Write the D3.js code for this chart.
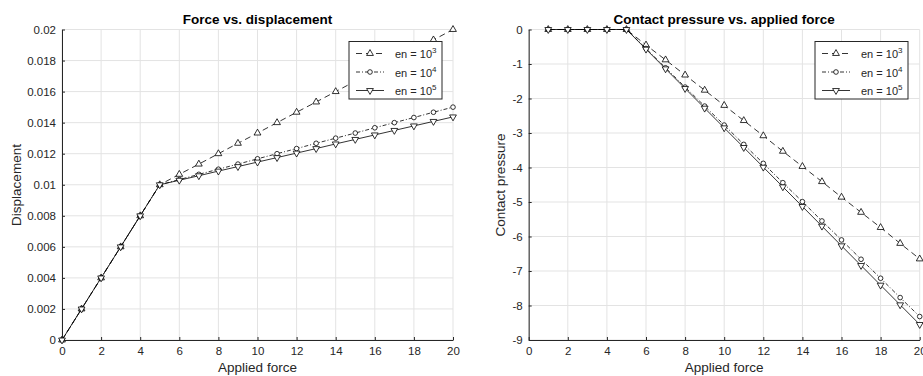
<!DOCTYPE html>
<html>
<head>
<meta charset="utf-8">
<script src="https://cdn.jsdelivr.net/npm/d3@7"></script>
<style>
  body { margin: 0; background: #fff; }
  svg { display: block; font-family: "Liberation Sans", Arial, sans-serif; }
</style>
</head>
<body>
<div id="chart"></div>
<script>
'use strict';

// data
var forceLeft = [0, 1, 2, 3, 4, 5, 6, 7, 8, 9, 10, 11, 12, 13, 14, 15, 16, 17, 18, 19, 20];
var dispEn3 = [0, 0.002, 0.004, 0.006, 0.008, 0.01, 0.01067, 0.01133, 0.012, 0.01267, 0.01333, 0.014, 0.01467, 0.01533, 0.016, 0.01667, 0.01733, 0.018, 0.01867, 0.01933, 0.02];
var dispEn4 = [0, 0.002, 0.004, 0.006, 0.008, 0.01, 0.01033, 0.01067, 0.011, 0.01133, 0.01167, 0.012, 0.01233, 0.01267, 0.013, 0.01333, 0.01367, 0.014, 0.01433, 0.01467, 0.015];
var dispEn5 = [0, 0.002, 0.004, 0.006, 0.008, 0.01, 0.01029, 0.01058, 0.01088, 0.01117, 0.01146, 0.01175, 0.01204, 0.01233, 0.01263, 0.01292, 0.01321, 0.0135, 0.01379, 0.01408, 0.01437];

var forceRight = [1, 2, 3, 4, 5, 6, 7, 8, 9, 10, 11, 12, 13, 14, 15, 16, 17, 18, 19, 20];
var presEn3 = [0, 0, 0, 0, 0, -0.45, -0.88, -1.32, -1.76, -2.2, -2.64, -3.08, -3.53, -3.97, -4.41, -4.86, -5.3, -5.74, -6.2, -6.65];
var presEn4 = [0, 0, 0, 0, 0, -0.55, -1.11, -1.67, -2.22, -2.77, -3.33, -3.88, -4.44, -4.99, -5.55, -6.1, -6.66, -7.21, -7.77, -8.32];
var presEn5 = [0, 0, 0, 0, 0, -0.57, -1.14, -1.71, -2.28, -2.85, -3.42, -3.99, -4.56, -5.13, -5.7, -6.27, -6.84, -7.41, -7.98, -8.55];

var legendExps = ['3', '4', '5'];
var xTicks = [0, 2, 4, 6, 8, 10, 12, 14, 16, 18, 20];
var yTicksLeft = [0, 0.002, 0.004, 0.006, 0.008, 0.01, 0.012, 0.014, 0.016, 0.018, 0.02];
var yTicksRight = [0, -1, -2, -3, -4, -5, -6, -7, -8, -9];

var myApp = {};
myApp.W = 923;
myApp.H = 376;
myApp.lineStyles = ['6,4', '4,2,1,2', null];
myApp.markers = [d3.symbolTriangle, d3.symbolCircle, 'down'];

myApp.svg = d3.select('#chart').append('svg')
    .attr('width', myApp.W)
    .attr('height', myApp.H);

myApp.markerPath = function(kind) {
    if (kind === 'down') {
        return d3.symbol().type(d3.symbolTriangle).size(20)();
    }
    return d3.symbol().type(kind).size(kind === d3.symbolCircle ? 17 : 20)();
};

myApp.drawPanel = function(opt) {
    var svg = myApp.svg;
    var x = d3.scaleLinear().domain([0, 20]).range([opt.left, opt.right]);
    var y = d3.scaleLinear().domain(opt.yDomain).range([340, 29.5]);

    var g = svg.append('g');

    // grid
    g.selectAll('.gx').data(xTicks).enter().append('line')
        .attr('x1', function(d) { return x(d); })
        .attr('x2', function(d) { return x(d); })
        .attr('y1', y.range()[0]).attr('y2', y.range()[1])
        .style('stroke', '#e3e3e3').style('stroke-width', 1);
    g.selectAll('.gy').data(opt.yTicks).enter().append('line')
        .attr('x1', opt.left).attr('x2', opt.right)
        .attr('y1', function(d) { return y(d); })
        .attr('y2', function(d) { return y(d); })
        .style('stroke', '#e3e3e3').style('stroke-width', 1);

    // axes
    var xAxis = d3.axisBottom(x).tickValues(xTicks).tickSizeInner(-3).tickSizeOuter(0).tickPadding(7);
    var yAxis = d3.axisLeft(y).tickValues(opt.yTicks).tickSizeInner(-3).tickSizeOuter(0).tickPadding(6)
        .tickFormat(opt.yFormat);

    var ax = g.append('g').attr('transform', 'translate(0,340)').call(xAxis);
    var ay = g.append('g').attr('transform', 'translate(' + opt.left + ',0)').call(yAxis);
    [ax, ay].forEach(function(a) {
        a.select('.domain').style('stroke', '#262626').style('stroke-width', 1);
        a.selectAll('.tick line').style('stroke', '#262626');
        a.selectAll('.tick text').style('fill', '#262626').style('font-size', '11.5px');
    });

    // titles / labels
    g.append('text')
        .attr('x', (opt.left + opt.right) / 2).attr('y', 23.5)
        .attr('text-anchor', 'middle')
        .style('font-weight', 'bold').style('font-size', '13.5px').style('fill', '#000')
        .text(opt.title);
    g.append('text')
        .attr('x', (opt.left + opt.right) / 2).attr('y', 372)
        .attr('text-anchor', 'middle')
        .style('font-size', '13.5px').style('fill', '#262626')
        .text('Applied force');
    g.append('text')
        .attr('transform', 'translate(' + opt.yLabelX + ',' + 185 + ') rotate(-90)')
        .attr('text-anchor', 'middle')
        .style('font-size', '13.5px').style('fill', '#262626')
        .text(opt.yLabel);

    // series
    opt.series.forEach(function(vals, i) {
        var pts = opt.xs.map(function(d, j) { return [d, vals[j]]; });
        var line = d3.line()
            .x(function(d) { return x(d[0]); })
            .y(function(d) { return y(d[1]); });
        g.append('path')
            .attr('d', line(pts))
            .style('fill', 'none')
            .style('stroke', '#000')
            .style('stroke-width', 0.8)
            .style('stroke-dasharray', myApp.lineStyles[i]);
        g.selectAll('.m' + i).data(pts).enter().append('path')
            .attr('d', myApp.markerPath(myApp.markers[i]))
            .attr('transform', function(d) {
                return 'translate(' + x(d[0]) + ',' + y(d[1]) + ')' +
                    (myApp.markers[i] === 'down' ? ' rotate(180)' : '');
            })
            .style('fill', '#fff')
            .style('stroke', '#000')
            .style('stroke-width', 0.8);
    });

    // legend
    var lg = g.append('g');
    lg.append('rect')
        .attr('x', opt.legX).attr('y', 41.5)
        .attr('width', 93).attr('height', 57.5)
        .style('fill', '#fff').style('stroke', '#262626').style('stroke-width', 1);
    legendExps.forEach(function(e, i) {
        var yy = 53.5 + i * 18.5;
        var x0 = opt.legX + 7, x1 = opt.legX + 35;
        lg.append('line')
            .attr('x1', x0).attr('x2', x1).attr('y1', yy).attr('y2', yy)
            .style('stroke', '#000').style('stroke-width', 0.8)
            .style('stroke-dasharray', myApp.lineStyles[i]);
        lg.append('path')
            .attr('d', myApp.markerPath(myApp.markers[i]))
            .attr('transform', 'translate(' + ((x0 + x1) / 2) + ',' + yy + ')' +
                (myApp.markers[i] === 'down' ? ' rotate(180)' : ''))
            .style('fill', '#fff').style('stroke', '#000').style('stroke-width', 0.8);
        var t = lg.append('text')
            .attr('x', opt.legX + 46).attr('y', yy + 4.5)
            .style('font-size', '11px').style('fill', '#262626');
        t.append('tspan').text('en = 10');
        t.append('tspan').attr('dy', -5).style('font-size', '8px').text(e);
    });
};

myApp.drawPanel({
    left: 62, right: 453,
    yDomain: [0, 0.02],
    yTicks: yTicksLeft,
    yFormat: function(d) { return d === 0 ? '0' : d3.format('.3~f')(d); },
    title: 'Force vs. displacement',
    yLabel: 'Displacement',
    yLabelX: 21,
    xs: forceLeft,
    series: [dispEn3, dispEn4, dispEn5],
    legX: 349
});

myApp.drawPanel({
    left: 528.7, right: 919.7,
    yDomain: [-9, 0],
    yTicks: yTicksRight,
    yFormat: function(d) { return d3.format('d')(d).replace('−', '-'); },
    title: 'Contact pressure vs. applied force',
    yLabel: 'Contact pressure',
    yLabelX: 505,
    xs: forceRight,
    series: [presEn3, presEn4, presEn5],
    legX: 815
});
</script>
</body>
</html>
